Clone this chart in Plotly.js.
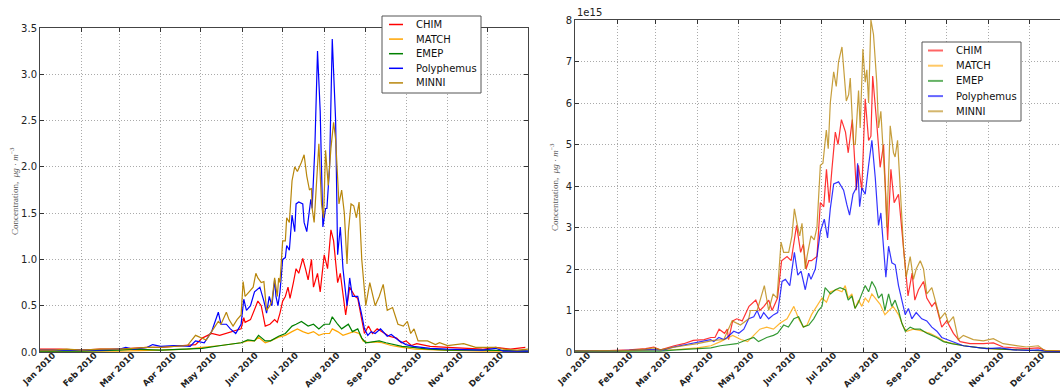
<!DOCTYPE html>
<html>
<head>
<meta charset="utf-8">
<script src="https://cdn.plot.ly/plotly-3.0.1.min.js"></script>
<style>html,body{margin:0;padding:0;background:#fff;}#chart{width:1060px;height:389px;}</style>
</head>
<body>
<div id="chart"></div>
<script>
// ---------- DATA (day of year 2010, value) ----------
const models = ["CHIM", "MATCH", "EMEP", "Polyphemus", "MINNI"];
const colors = ["#ff0000", "#ffa500", "#008000", "#0000ff", "#b8860b"];
const rightScaleLabel = "1e15";

// Left panel (µg·m⁻³)
const chimL_days = [0,15,31,45,59,70,80,90,100,110,116,121,128,134,139,144,150,152,153,157,160,162.5,165,168,171.5,175,177,179,181,183,185,186.5,189,191,193,196,198,200,202.5,204,207,209,212,214.5,217,219,222,224,228,231,235,237,240,242,245,248,251.5,255,260.5,266,269.5,273,277,281,291,304,317,330,340,351,362];
const chimL_vals = [0.03,0.03,0.02,0.03,0.03,0.04,0.05,0.05,0.06,0.07,0.08,0.15,0.2,0.18,0.2,0.22,0.25,0.37,0.32,0.35,0.45,0.55,0.5,0.28,0.3,0.35,0.32,0.42,0.55,0.6,0.7,0.58,0.75,0.9,0.85,1.01,0.9,0.78,1.0,0.7,0.85,0.65,1.05,0.9,1.32,1.2,0.75,0.85,0.4,0.7,0.6,0.58,0.35,0.2,0.28,0.2,0.25,0.22,0.17,0.15,0.1,0.12,0.07,0.09,0.06,0.05,0.04,0.03,0.05,0.03,0.05];

const matchL_days = [0,31,59,90,110,121,135,150,155,160,163,168,172,178,183,188,192,196,200,204,208,212,216,218,222,226,230,234,238,241,245,250,255,262,270,280,300,330,364];
const matchL_vals = [0.01,0.01,0.01,0.02,0.03,0.05,0.07,0.1,0.12,0.12,0.16,0.1,0.12,0.16,0.18,0.22,0.25,0.22,0.2,0.22,0.18,0.2,0.2,0.25,0.22,0.18,0.2,0.22,0.2,0.12,0.1,0.11,0.1,0.07,0.05,0.03,0.02,0.01,0.01];

const emepL_days = [0,31,59,70,90,110,121,135,150,155,160,163,168,172,178,183,188,191,195,200,204,208,212,216,218,222,225,230,233,237,240,243,248,253,258,263,270,278,290,305,330,364];
const emepL_vals = [0.01,0.01,0.02,0.03,0.02,0.03,0.04,0.07,0.1,0.13,0.12,0.18,0.12,0.12,0.17,0.2,0.28,0.3,0.33,0.28,0.3,0.25,0.3,0.3,0.38,0.3,0.25,0.3,0.22,0.25,0.15,0.1,0.11,0.12,0.1,0.08,0.06,0.05,0.03,0.02,0.02,0.01];

const polyL_days = [0,15,31,45,59,64,70,80,84,90,100,112,116,122.5,128,133,135,139,142,146,148,150,152,154,157,160,164,166,167,169,171,173,175,176,177.5,179,181,183,184,186,188,190,191,193,196,197,199,202,203,205,207,209,211,213,214,216,218,220.5,222,224,226,229,231,233,237,240,242,244.5,247,250,254,259,262,268,273,278.5,291,304,330,340,345.6,364];
const polyL_vals = [0.02,0.02,0.02,0.02,0.03,0.05,0.03,0.05,0.08,0.06,0.07,0.06,0.12,0.1,0.22,0.43,0.3,0.3,0.25,0.2,0.25,0.3,0.57,0.45,0.5,0.65,0.7,0.6,0.55,0.42,0.6,0.5,0.78,0.6,0.5,0.65,1.0,1.02,1.15,1.1,1.48,1.3,1.6,1.62,1.6,1.4,1.3,1.65,1.55,2.2,3.25,2.6,1.35,1.55,1.55,2.0,3.38,2.5,1.05,1.35,0.9,0.5,0.8,0.6,0.6,0.4,0.25,0.18,0.22,0.2,0.25,0.17,0.19,0.12,0.08,0.06,0.04,0.03,0.02,0.04,0.01,0.01];

const minniL_days = [0,10,20,31,45,59,70,80,90,100,110,116,121,124,128,133,135,139,141,144,147,150,151.5,153,156,159,161,162.5,165,167,169,171.5,173,175,177,178,179,181,183,184,186,188,190,192,195,197,199,201,202.5,203,204.5,206,208,210,211.5,213,215,217,219,220.5,223,225,227,229,230,232,234,236,238,240,241,243,246,250,253,256,259,263,267,271,274,276.5,279,282,289,295,298,304,316,325,340,346,356,364];
const minniL_vals = [0.02,0.02,0.03,0.02,0.03,0.03,0.04,0.05,0.05,0.06,0.07,0.18,0.15,0.13,0.22,0.33,0.3,0.43,0.35,0.28,0.35,0.4,0.76,0.6,0.65,0.7,0.85,0.8,0.75,0.76,0.45,0.5,0.55,0.8,0.6,0.8,0.75,1.2,1.2,1.45,1.4,1.85,2.0,1.95,2.05,2.13,1.9,1.75,1.77,1.55,1.4,1.8,2.25,1.6,1.45,2.18,1.8,2.2,2.48,2.3,1.6,1.75,1.5,0.95,1.3,1.6,1.58,1.45,1.62,1.0,0.85,0.5,0.75,0.5,0.6,0.73,0.45,0.48,0.3,0.28,0.33,0.2,0.25,0.12,0.12,0.08,0.1,0.07,0.09,0.05,0.05,0.03,0.02,0.03];

// Right panel (values in units of 1e15)
const chimR_days = [0,20,40,52,58,63,73,80,87,95,100,103,106,110,112,113,116,119,123,128,133,136,139,142.5,145,149,152,156,159,163,166,168,170,172,174,178,180.5,183,185,187,189,191.5,193.5,196,199,201,204,207,208.5,211,213.5,216,217.7,219,222,224.5,227,230,232.4,234.8,238,240.4,243,245,248,250,252.7,256.4,258.8,262.5,265,267.4,269.8,273.5,278.4,283.3,290.6,300.4,307.8,315,322.5,332.3,340.8,346.9,356.8];
const chimR_vals = [0.03,0.03,0.05,0.08,0.12,0.05,0.15,0.2,0.28,0.3,0.35,0.35,0.55,0.45,0.55,0.3,0.75,0.8,0.75,1.1,1.25,1.0,1.1,1.25,1.0,1.3,2.2,2.3,2.2,3.05,2.4,2.6,2.0,2.2,2.2,2.3,3.6,3.5,4.4,3.6,4.4,5.3,5.0,5.6,5.3,4.8,5.6,3.9,4.5,3.9,6.1,5.1,5.2,6.65,5.5,4.45,5.0,2.7,4.4,3.6,3.8,3.0,2.0,1.35,1.9,1.25,1.5,1.7,1.3,1.1,1.2,0.9,0.6,0.75,0.45,0.25,0.2,0.2,0.22,0.12,0.1,0.08,0.1,0.03,0.03];

const matchR_days = [0,30,59,75,90,100,107,116,122,127,131.5,136,141,146,151,156,161,164.5,168,170.7,174,178,181.7,185,188,192.7,196.4,198.8,201,203.7,206,208.6,211,213.5,216,218.4,222,224.5,228,230.7,234,238,241.7,244,249,256,261,267.4,272,278,286,303,322.5,342,357];
const matchR_vals = [0.02,0.02,0.05,0.06,0.1,0.15,0.25,0.4,0.3,0.25,0.4,0.55,0.6,0.55,0.7,0.8,1.1,0.8,0.6,0.65,0.9,1.1,1.3,1.2,1.45,1.5,1.45,1.6,1.3,1.4,1.05,1.25,1.1,1.3,1.2,1.4,1.25,1.15,0.9,1.0,1.1,0.9,0.6,0.5,0.55,0.5,0.45,0.35,0.25,0.2,0.15,0.08,0.05,0.03,0.02];

const emepR_days = [0,30,59,63,75,90,100,107,119,127,131.5,135,141,146,149,153.5,157,161,164.5,168,172,175.6,179,181.7,184,188,191.5,195,198.8,201,203.7,206,208.6,211,213.5,216,218.4,221,223.3,225.8,228,230.7,233,235.5,238,240.4,243,246.6,250,254,258.8,262.5,266,271,277,286,298,313,327,342,357];
const emepR_vals = [0.02,0.02,0.03,0.02,0.05,0.08,0.1,0.15,0.2,0.3,0.35,0.25,0.35,0.4,0.45,0.65,0.6,0.8,0.85,0.6,0.65,0.8,1.0,1.1,1.55,1.4,1.5,1.55,1.5,1.25,1.35,1.05,1.2,1.4,1.6,1.45,1.7,1.55,1.3,1.4,1.0,1.4,1.1,1.25,1.0,0.7,0.5,0.6,0.55,0.55,0.45,0.4,0.35,0.25,0.2,0.15,0.1,0.07,0.05,0.02,0.01];

const polyR_days = [0,30,52,59.3,65.4,72.7,85,94.8,99.7,102.1,105.8,109.5,111.9,116.8,120.5,124.2,127.8,131.5,134,136.4,138.8,142.5,146.2,149.1,152.3,154.8,158,161.4,163.9,166.3,169.4,171.9,173.6,176.8,180.5,183.4,185.8,187.8,190.3,193.9,197.6,200,202,204.5,206.9,207.9,209.4,211.1,213.5,216,218.4,220.9,223.3,225,227,228.7,230.7,233.1,235.6,238,242.9,245.3,247.8,251,255.1,258.8,262.5,266.2,269.8,273.5,278.4,285.7,293,302.9,312.7,322.5,334.7,340.8,346.9,356.8];
const polyR_vals = [0.03,0.03,0.06,0.05,0.05,0.12,0.2,0.25,0.3,0.25,0.35,0.3,0.35,0.5,0.45,0.55,0.8,0.85,1.0,0.8,0.95,0.8,0.9,0.95,1.7,1.75,1.6,2.4,1.85,1.95,1.5,1.9,1.75,2.0,2.9,3.2,2.75,3.45,4.05,4.1,3.9,3.55,3.3,3.8,3.95,4.55,3.5,3.95,3.8,4.5,5.1,4.2,3.05,3.35,2.6,1.8,2.55,2.15,2.1,1.6,0.9,1.05,0.8,0.95,0.8,0.75,0.6,0.5,0.35,0.3,0.25,0.15,0.12,0.08,0.1,0.05,0.04,0.05,0.01,0.01];

const minniR_days = [0,20,40,52,58,63,70,80,90,102,109.5,115.6,119,121.7,127.8,129,134,139.3,142.5,145.7,148.6,151.6,153.5,157.2,159.6,161.4,163.3,165.3,167,169.4,170.7,173.6,176,178,180.5,182.4,184.9,186.3,187.8,190.3,192.2,193.9,196.4,198.1,199.6,201.3,202.5,204.9,206.2,208.6,209.8,211.8,213.5,214.7,216,217.7,219.6,222,223.3,225,228.2,229.4,231.9,234.3,235.5,237.3,239.2,241.7,243.6,246.6,249,251,254,256.4,258.8,262.5,266.2,268.6,272.3,274.7,278.4,282,285.7,293,300.4,307.8,315,325,332,340.8,345.7,356.8];
const minniR_vals = [0.03,0.03,0.04,0.07,0.1,0.05,0.1,0.15,0.2,0.28,0.3,0.75,0.7,0.65,0.8,1.0,1.0,1.6,1.0,1.4,1.3,2.65,2.4,2.4,2.8,3.45,3.1,2.8,3.1,2.0,2.3,2.8,2.7,3.0,4.5,4.55,5.35,4.9,6.0,6.75,6.4,7.0,7.35,6.6,6.05,6.2,6.6,5.0,5.0,6.3,5.4,7.3,6.5,6.8,6.0,8.0,7.65,6.5,5.4,5.8,4.0,3.0,5.45,4.8,4.7,5.1,4.0,2.5,1.8,2.3,1.75,2.0,2.2,2.0,1.4,1.55,1.1,0.8,0.95,0.7,0.85,0.3,0.4,0.3,0.27,0.32,0.2,0.15,0.12,0.15,0.03,0.03];

const monthTicks = ["2010-01-01","2010-02-01","2010-03-01","2010-04-01","2010-05-01","2010-06-01","2010-07-01","2010-08-01","2010-09-01","2010-10-01","2010-11-01","2010-12-01"];
const yTitle = "Concentration,  <i>μg</i> · <i>m</i><sup>−3</sup>";

// ---------- BUILD ----------
const t0 = Date.UTC(2010, 0, 1);
function toDates(days) {
  return days.map(d => new Date(t0 + d * 86400000).toISOString().slice(0, 19).replace("T", " "));
}
const leftSets = [[chimL_days, chimL_vals], [matchL_days, matchL_vals], [emepL_days, emepL_vals], [polyL_days, polyL_vals], [minniL_days, minniL_vals]];
const rightSets = [[chimR_days, chimR_vals], [matchR_days, matchR_vals], [emepR_days, emepR_vals], [polyR_days, polyR_vals], [minniR_days, minniR_vals]];

const traces = [];
leftSets.forEach((s, i) => traces.push({
  x: toDates(s[0]), y: s[1], type: "scatter", mode: "lines", name: models[i],
  line: {color: colors[i], width: 1.2}, xaxis: "x", yaxis: "y", showlegend: false
}));
rightSets.forEach((s, i) => traces.push({
  x: toDates(s[0]), y: s[1], type: "scatter", mode: "lines", name: models[i],
  line: {color: colors[i], width: 1.2}, opacity: 0.8, xaxis: "x2", yaxis: "y2", showlegend: false
}));

const W = 1060, H = 389;
const px = v => v / W, py = v => 1 - v / H;

const xCommon = {
  type: "date", tickvals: monthTicks, tickformat: "%b %Y", tickangle: -45,
  tickfont: {family: "DejaVu Sans", size: 8.5, color: "#222", weight: "bold"},
  ticklabelshift: 13, ticklabelstandoff: -6,
  ticks: "inside", ticklen: 4, tickcolor: "#333", mirror: "ticks",
  showline: true, linecolor: "#444", linewidth: 1,
  showgrid: true, gridcolor: "#aaaaaa", griddash: "1px,2px", gridwidth: 1, zeroline: false
};
const yCommon = {
  tickfont: {family: "DejaVu Sans", size: 10, color: "#222"},
  ticks: "inside", ticklen: 4, tickcolor: "#333",
  showline: true, linecolor: "#444", linewidth: 1,
  showgrid: true, gridcolor: "#aaaaaa", griddash: "1px,2px", gridwidth: 1, zeroline: false
};

// Hand-built legends (matplotlib-like compact boxes), generated from models/colors
const legends = [
  {box: [382, 16, 481, 93], lineX: [389, 403], textX: 414, y0: 24.5, dy: 14.6, width: 1.5, opacity: 1},
  {box: [922, 42, 1021, 121], lineX: [928, 943], textX: 954, y0: 50.5, dy: 15.2, width: 2, opacity: 0.6}
];
const shapes = [], legendTexts = [];
legends.forEach(L => {
  shapes.push({type: "rect", xref: "paper", yref: "paper", layer: "above",
    x0: px(L.box[0]), x1: px(L.box[2]), y0: py(L.box[3]), y1: py(L.box[1]),
    fillcolor: "#fff", line: {color: "#555", width: 1}});
  models.forEach((m, i) => {
    const yy = L.y0 + i * L.dy;
    shapes.push({type: "line", xref: "paper", yref: "paper", layer: "above",
      x0: px(L.lineX[0]), x1: px(L.lineX[1]), y0: py(yy), y1: py(yy), opacity: L.opacity,
      line: {color: colors[i], width: L.width}});
    legendTexts.push({text: m, xref: "paper", yref: "paper", x: px(L.textX), y: py(yy),
      xanchor: "left", yanchor: "middle", showarrow: false,
      font: {family: "DejaVu Sans", size: 10, color: "#111"}});
  });
});

const layout = {
  width: W, height: H, margin: {l: 0, r: 0, t: 0, b: 0},
  paper_bgcolor: "#fff", plot_bgcolor: "#fff", showlegend: false,
  xaxis: Object.assign({}, xCommon, {domain: [px(40), px(528)], range: ["2010-01-01", "2010-12-31"], anchor: "y"}),
  yaxis: Object.assign({}, yCommon, {domain: [py(352), py(28)], range: [0, 3.5], dtick: 0.5, tickformat: ".1f", mirror: "ticks", anchor: "x"}),
  xaxis2: Object.assign({}, xCommon, {domain: [px(575), 1], range: ["2010-01-01", toDates([356.8])[0]], anchor: "y2"}),
  yaxis2: Object.assign({}, yCommon, {domain: [py(352), py(20)], range: [0, 8], dtick: 1, mirror: false, anchor: "x2"}),
  shapes: shapes,
  annotations: [
    {text: yTitle, xref: "paper", yref: "paper", x: px(14), y: py(192), textangle: -90, showarrow: false,
     font: {family: "Liberation Serif", size: 9, color: "#555"}, xanchor: "center", yanchor: "middle"},
    {text: yTitle, xref: "paper", yref: "paper", x: px(554), y: py(188), textangle: -90, showarrow: false,
     font: {family: "Liberation Serif", size: 9, color: "#555"}, xanchor: "center", yanchor: "middle"},
    {text: rightScaleLabel, xref: "paper", yref: "paper", x: px(575), y: py(20), showarrow: false,
     font: {family: "DejaVu Sans", size: 10, color: "#222"}, xanchor: "left", yanchor: "bottom"}
  ].concat(legendTexts)
};

Plotly.newPlot("chart", traces, layout, {displayModeBar: false, staticPlot: true});
</script>
</body>
</html>
